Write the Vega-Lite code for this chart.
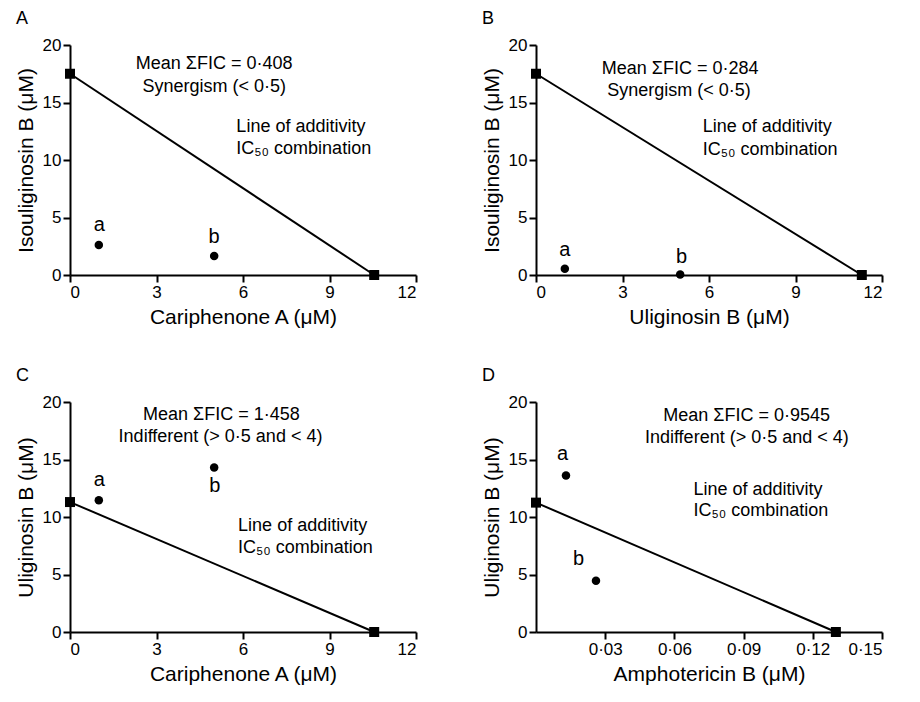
{
  "$schema": "https://vega.github.io/schema/vega-lite/v6.json",
  "background": "white",
  "padding": {"left": 15, "top": 10, "right": 5, "bottom": 5},
  "bounds": "flush",
  "columns": 2,
  "spacing": {"row": 127, "column": 120},
  "datasets": {
    "line": [
      {"panel": "A", "x": 0, "y": 17.5}, {"panel": "A", "x": 10.55, "y": 0},
      {"panel": "B", "x": 0, "y": 17.5}, {"panel": "B", "x": 11.3, "y": 0},
      {"panel": "C", "x": 0, "y": 11.3}, {"panel": "C", "x": 10.55, "y": 0},
      {"panel": "D", "x": 0, "y": 11.25}, {"panel": "D", "x": 0.13, "y": 0}
    ],
    "combo": [
      {"panel": "A", "x": 1, "y": 2.6}, {"panel": "A", "x": 5, "y": 1.65},
      {"panel": "B", "x": 1, "y": 0.55}, {"panel": "B", "x": 5, "y": 0.05},
      {"panel": "C", "x": 1, "y": 11.45}, {"panel": "C", "x": 5, "y": 14.3},
      {"panel": "D", "x": 0.013, "y": 13.6}, {"panel": "D", "x": 0.026, "y": 4.45}
    ],
    "pointLabels": [
      {"panel": "A", "text": "a", "x": 1.02, "y": 4.38}, {"panel": "A", "text": "b", "x": 5.0, "y": 3.34},
      {"panel": "B", "text": "a", "x": 1.0, "y": 2.21}, {"panel": "B", "text": "b", "x": 5.05, "y": 1.6},
      {"panel": "C", "text": "a", "x": 1.02, "y": 13.19}, {"panel": "C", "text": "b", "x": 5.02, "y": 12.67},
      {"panel": "D", "text": "a", "x": 0.0115, "y": 15.44}, {"panel": "D", "text": "b", "x": 0.0184, "y": 6.33}
    ],
    "notes": [
      {"panel": "A", "role": "verdict", "text": "Mean ΣFIC = 0·408", "x": 5.0, "y": 18.35},
      {"panel": "A", "role": "verdict", "text": "Synergism (< 0·5)", "x": 5.0, "y": 16.38},
      {"panel": "A", "role": "line", "text": "Line of additivity", "x": 5.77, "y": 12.84},
      {"panel": "A", "role": "line", "text": "IC₅₀ combination", "x": 5.77, "y": 10.96},
      {"panel": "B", "role": "verdict", "text": "Mean ΣFIC = 0·284", "x": 5.0, "y": 17.9},
      {"panel": "B", "role": "verdict", "text": "Synergism (< 0·5)", "x": 4.96, "y": 16.0},
      {"panel": "B", "role": "line", "text": "Line of additivity", "x": 5.78, "y": 12.84},
      {"panel": "B", "role": "line", "text": "IC₅₀ combination", "x": 5.78, "y": 10.9},
      {"panel": "C", "role": "verdict", "text": "Mean ΣFIC = 1·458", "x": 5.25, "y": 18.84},
      {"panel": "C", "role": "verdict", "text": "Indifferent (> 0·5 and < 4)", "x": 5.22, "y": 16.96},
      {"panel": "C", "role": "line", "text": "Line of additivity", "x": 5.83, "y": 9.19},
      {"panel": "C", "role": "line", "text": "IC₅₀ combination", "x": 5.83, "y": 7.3},
      {"panel": "D", "role": "verdict", "text": "Mean ΣFIC = 0·9545", "x": 0.0913, "y": 18.8},
      {"panel": "D", "role": "verdict", "text": "Indifferent (> 0·5 and < 4)", "x": 0.0914, "y": 16.88},
      {"panel": "D", "role": "line", "text": "Line of additivity", "x": 0.0683, "y": 12.35},
      {"panel": "D", "role": "line", "text": "IC₅₀ combination", "x": 0.0683, "y": 10.54}
    ]
  },
  "concat": [
    {
      "title": {"text": "A"},
      "width": 346, "height": 230,
      "encoding": {
        "x": {"field": "x", "type": "quantitative", "scale": {"domain": [0, 12]}, "axis": {"values": [0, 3, 6, 9, 12], "title": "Cariphenone A (μM)"}},
        "y": {"field": "y", "type": "quantitative", "scale": {"domain": [0, 20]}, "axis": {"values": [0, 5, 10, 15, 20], "title": "Isouliginosin B (μM)"}}
      },
      "layer": [
        {"data": {"name": "line"}, "transform": [{"filter": "datum.panel === 'A'"}], "mark": {"type": "line", "color": "black", "strokeWidth": 2}},
        {"data": {"name": "line"}, "transform": [{"filter": "datum.panel === 'A'"}], "mark": {"type": "point", "shape": "square", "filled": true, "color": "black", "opacity": 1, "size": 100}},
        {"data": {"name": "combo"}, "transform": [{"filter": "datum.panel === 'A'"}], "mark": {"type": "circle", "color": "black", "opacity": 1, "size": 72}},
        {"data": {"name": "pointLabels"}, "transform": [{"filter": "datum.panel === 'A'"}], "mark": {"type": "text", "fontSize": 20, "baseline": "middle", "align": "center"}, "encoding": {"text": {"field": "text"}}},
        {"data": {"name": "notes"}, "transform": [{"filter": "datum.panel === 'A' && datum.role === 'verdict'"}], "mark": {"type": "text", "fontSize": 18, "baseline": "middle", "align": "center"}, "encoding": {"text": {"field": "text"}}},
        {"data": {"name": "notes"}, "transform": [{"filter": "datum.panel === 'A' && datum.role === 'line'"}], "mark": {"type": "text", "fontSize": 18, "baseline": "middle", "align": "left"}, "encoding": {"text": {"field": "text"}}}
      ]
    },
    {
      "title": {"text": "B"},
      "width": 346, "height": 230,
      "encoding": {
        "x": {"field": "x", "type": "quantitative", "scale": {"domain": [0, 12]}, "axis": {"values": [0, 3, 6, 9, 12], "title": "Uliginosin B (μM)"}},
        "y": {"field": "y", "type": "quantitative", "scale": {"domain": [0, 20]}, "axis": {"values": [0, 5, 10, 15, 20], "title": "Isouliginosin B (μM)"}}
      },
      "layer": [
        {"data": {"name": "line"}, "transform": [{"filter": "datum.panel === 'B'"}], "mark": {"type": "line", "color": "black", "strokeWidth": 2}},
        {"data": {"name": "line"}, "transform": [{"filter": "datum.panel === 'B'"}], "mark": {"type": "point", "shape": "square", "filled": true, "color": "black", "opacity": 1, "size": 100}},
        {"data": {"name": "combo"}, "transform": [{"filter": "datum.panel === 'B'"}], "mark": {"type": "circle", "color": "black", "opacity": 1, "size": 72}},
        {"data": {"name": "pointLabels"}, "transform": [{"filter": "datum.panel === 'B'"}], "mark": {"type": "text", "fontSize": 20, "baseline": "middle", "align": "center"}, "encoding": {"text": {"field": "text"}}},
        {"data": {"name": "notes"}, "transform": [{"filter": "datum.panel === 'B' && datum.role === 'verdict'"}], "mark": {"type": "text", "fontSize": 18, "baseline": "middle", "align": "center"}, "encoding": {"text": {"field": "text"}}},
        {"data": {"name": "notes"}, "transform": [{"filter": "datum.panel === 'B' && datum.role === 'line'"}], "mark": {"type": "text", "fontSize": 18, "baseline": "middle", "align": "left"}, "encoding": {"text": {"field": "text"}}}
      ]
    },
    {
      "title": {"text": "C"},
      "width": 346, "height": 230,
      "encoding": {
        "x": {"field": "x", "type": "quantitative", "scale": {"domain": [0, 12]}, "axis": {"values": [0, 3, 6, 9, 12], "title": "Cariphenone A (μM)"}},
        "y": {"field": "y", "type": "quantitative", "scale": {"domain": [0, 20]}, "axis": {"values": [0, 5, 10, 15, 20], "title": "Uliginosin B (μM)"}}
      },
      "layer": [
        {"data": {"name": "line"}, "transform": [{"filter": "datum.panel === 'C'"}], "mark": {"type": "line", "color": "black", "strokeWidth": 2}},
        {"data": {"name": "line"}, "transform": [{"filter": "datum.panel === 'C'"}], "mark": {"type": "point", "shape": "square", "filled": true, "color": "black", "opacity": 1, "size": 100}},
        {"data": {"name": "combo"}, "transform": [{"filter": "datum.panel === 'C'"}], "mark": {"type": "circle", "color": "black", "opacity": 1, "size": 72}},
        {"data": {"name": "pointLabels"}, "transform": [{"filter": "datum.panel === 'C'"}], "mark": {"type": "text", "fontSize": 20, "baseline": "middle", "align": "center"}, "encoding": {"text": {"field": "text"}}},
        {"data": {"name": "notes"}, "transform": [{"filter": "datum.panel === 'C' && datum.role === 'verdict'"}], "mark": {"type": "text", "fontSize": 18, "baseline": "middle", "align": "center"}, "encoding": {"text": {"field": "text"}}},
        {"data": {"name": "notes"}, "transform": [{"filter": "datum.panel === 'C' && datum.role === 'line'"}], "mark": {"type": "text", "fontSize": 18, "baseline": "middle", "align": "left"}, "encoding": {"text": {"field": "text"}}}
      ]
    },
    {
      "title": {"text": "D"},
      "width": 346, "height": 230,
      "encoding": {
        "x": {"field": "x", "type": "quantitative", "scale": {"domain": [0, 0.15]}, "axis": {"values": [0.03, 0.06, 0.09, 0.12, 0.15], "labelExpr": "replace(format(datum.value, '.2f'), '.', '·')", "title": "Amphotericin B (μM)"}},
        "y": {"field": "y", "type": "quantitative", "scale": {"domain": [0, 20]}, "axis": {"values": [0, 5, 10, 15, 20], "title": "Uliginosin B (μM)"}}
      },
      "layer": [
        {"data": {"name": "line"}, "transform": [{"filter": "datum.panel === 'D'"}], "mark": {"type": "line", "color": "black", "strokeWidth": 2}},
        {"data": {"name": "line"}, "transform": [{"filter": "datum.panel === 'D'"}], "mark": {"type": "point", "shape": "square", "filled": true, "color": "black", "opacity": 1, "size": 100}},
        {"data": {"name": "combo"}, "transform": [{"filter": "datum.panel === 'D'"}], "mark": {"type": "circle", "color": "black", "opacity": 1, "size": 72}},
        {"data": {"name": "pointLabels"}, "transform": [{"filter": "datum.panel === 'D'"}], "mark": {"type": "text", "fontSize": 20, "baseline": "middle", "align": "center"}, "encoding": {"text": {"field": "text"}}},
        {"data": {"name": "notes"}, "transform": [{"filter": "datum.panel === 'D' && datum.role === 'verdict'"}], "mark": {"type": "text", "fontSize": 18, "baseline": "middle", "align": "center"}, "encoding": {"text": {"field": "text"}}},
        {"data": {"name": "notes"}, "transform": [{"filter": "datum.panel === 'D' && datum.role === 'line'"}], "mark": {"type": "text", "fontSize": 18, "baseline": "middle", "align": "left"}, "encoding": {"text": {"field": "text"}}}
      ]
    }
  ],
  "config": {
    "view": {"stroke": null},
    "font": "Liberation Sans",
    "text": {"font": "Liberation Sans", "color": "black"},
    "title": {"anchor": "start", "frame": "group", "dx": -54, "fontSize": 18, "fontWeight": "normal", "font": "Liberation Sans", "color": "black", "offset": 8},
    "axis": {
      "grid": false,
      "domainColor": "black", "domainWidth": 2,
      "tickColor": "black", "tickWidth": 2, "tickSize": 7,
      "labelColor": "black", "labelFont": "Liberation Sans", "labelFontSize": 17, "labelPadding": 2,
      "titleColor": "black", "titleFont": "Liberation Sans", "titleFontSize": 21, "titleFontWeight": "normal",
      "titlePadding": 6
    }
  }
}
